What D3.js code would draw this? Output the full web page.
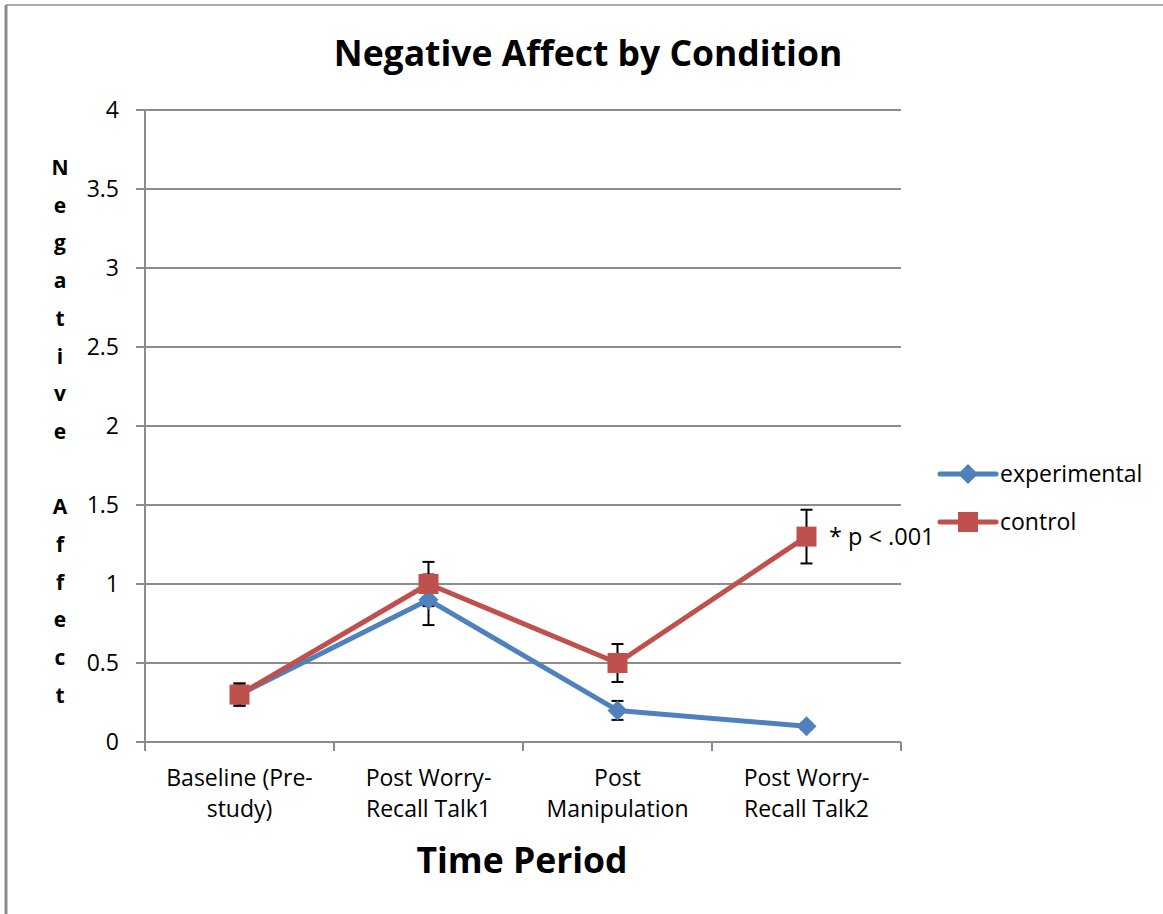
<!DOCTYPE html>
<html>
<head>
<meta charset="utf-8">
<script src="https://cdn.jsdelivr.net/npm/d3@7"></script>
<style>
  body { margin: 0; background: #fff; }
  svg text { font-family: "Open Sans", "Liberation Sans", sans-serif; fill: #000; }
</style>
</head>
<body>
<div id="chart"></div>
<script>
// chart values
var periods = [["Baseline (Pre-", "study)"], ["Post Worry-", "Recall Talk1"], ["Post", "Manipulation"], ["Post Worry-", "Recall Talk2"]];
var experimental = [0.3, 0.9, 0.2, 0.1];
var experimentalErr = [0.07, 0.16, 0.06, 0.02];
var control = [0.3, 1.0, 0.5, 1.3];
var controlErr = [0.07, 0.14, 0.12, 0.17];
var yTicks = [0, 0.5, 1, 1.5, 2, 2.5, 3, 3.5, 4];
var yLabel = "Negative Affect";

var W = 1163, H = 914;
var blue = "#4f81bd", red = "#c0504d", grid = "#8c8c8c";

var svg = d3.select("#chart").append("svg")
  .attr("width", W)
  .attr("height", H);

// outer frame (only left and top show)
svg.append("line").attr("x1", 6).attr("x2", 6).attr("y1", 5).attr("y2", H)
  .attr("stroke", grid).attr("stroke-width", 3);
svg.append("line").attr("x1", 6).attr("x2", W).attr("y1", 5).attr("y2", 5)
  .attr("stroke", grid).attr("stroke-width", 1.5);

var x = d3.scaleBand().domain(d3.range(periods.length)).range([145, 901]);
var y = d3.scaleLinear().domain([0, 4]).range([742, 110]);

// gridlines + y ticks
svg.append("g").selectAll("line").data(yTicks).join("line")
  .attr("x1", 136).attr("x2", 901)
  .attr("y1", function(d) { return y(d); })
  .attr("y2", function(d) { return y(d); })
  .attr("stroke", grid).attr("stroke-width", 2);

svg.append("g").selectAll("text").data(yTicks).join("text")
  .attr("x", 119)
  .attr("y", function(d) { return y(d) + 8; })
  .attr("text-anchor", "end")
  .attr("font-size", 23)
  .text(function(d) { return d; });

// y axis line
svg.append("line").attr("x1", 145).attr("x2", 145).attr("y1", 110).attr("y2", 750)
  .attr("stroke", grid).attr("stroke-width", 2);

// x ticks at band edges
var edges = d3.range(periods.length + 1).map(function(i) { return i < periods.length ? x(i) : x.range()[1]; });
svg.append("g").selectAll("line").data(edges).join("line")
  .attr("x1", function(d) { return d; }).attr("x2", function(d) { return d; })
  .attr("y1", 742).attr("y2", 751)
  .attr("stroke", grid).attr("stroke-width", 2);

// x tick labels
var xl = svg.append("g").selectAll("text").data(periods).join("text")
  .attr("text-anchor", "middle")
  .attr("font-size", 23);
xl.each(function(d, i) {
  var t = d3.select(this);
  d.forEach(function(line, j) {
    t.append("tspan")
      .attr("x", x(i) + x.bandwidth() / 2)
      .attr("y", 786 + j * 31)
      .text(line);
  });
});

function cx(i) { return x(i) + x.bandwidth() / 2; }

var line = d3.line()
  .x(function(d, i) { return cx(i); })
  .y(function(d) { return y(d); });

function errorBars(vals, errs) {
  var g = svg.append("g").attr("stroke", "#000").attr("stroke-width", 2);
  vals.forEach(function(v, i) {
    var top = y(v + errs[i]), bot = y(v - errs[i]);
    g.append("line").attr("x1", cx(i)).attr("x2", cx(i)).attr("y1", top).attr("y2", bot);
    g.append("line").attr("x1", cx(i) - 6).attr("x2", cx(i) + 6).attr("y1", top).attr("y2", top);
    g.append("line").attr("x1", cx(i) - 6).attr("x2", cx(i) + 6).attr("y1", bot).attr("y2", bot);
  });
}

errorBars(experimental, experimentalErr);
errorBars(control, controlErr);

svg.append("path").datum(experimental)
  .attr("d", line).attr("fill", "none")
  .attr("stroke", blue).attr("stroke-width", 5).attr("stroke-linejoin", "round");

svg.append("path").datum(control)
  .attr("d", line).attr("fill", "none")
  .attr("stroke", red).attr("stroke-width", 5).attr("stroke-linejoin", "round");

var diamond = d3.symbol().type(d3.symbolSquare).size(200);

svg.append("g").selectAll("path").data(experimental).join("path")
  .attr("d", diamond)
  .attr("transform", function(d, i) { return "translate(" + cx(i) + "," + y(d) + ") rotate(45)"; })
  .attr("fill", blue);

svg.append("g").selectAll("rect").data(control).join("rect")
  .attr("x", function(d, i) { return cx(i) - 10; })
  .attr("y", function(d) { return y(d) - 10; })
  .attr("width", 20).attr("height", 20)
  .attr("fill", red);

// significance note
svg.append("text")
  .attr("x", 829)
  .attr("y", y(control[3]) + 8)
  .attr("font-size", 23.5)
  .text("* p < .001");

// legend
var legend = [{ name: "experimental", color: blue, shape: "diamond" }, { name: "control", color: red, shape: "square" }];
var lg = svg.append("g").selectAll("g").data(legend).join("g")
  .attr("transform", function(d, i) { return "translate(940," + (474 + i * 48) + ")"; });
lg.append("line").attr("x1", 0).attr("x2", 56).attr("y1", 0).attr("y2", 0)
  .attr("stroke", function(d) { return d.color; }).attr("stroke-width", 5).attr("stroke-linecap", "round");
lg.append("path")
  .attr("d", function(d) { return d.shape === "diamond" ? diamond() : d3.symbol().type(d3.symbolSquare).size(400)(); })
  .attr("transform", function(d) { return "translate(28,0)" + (d.shape === "diamond" ? " rotate(45)" : ""); })
  .attr("fill", function(d) { return d.color; });
lg.append("text")
  .attr("x", 60).attr("y", 8)
  .attr("font-size", 23)
  .text(function(d) { return d.name; });

// titles
svg.append("text")
  .attr("x", 588).attr("y", 66)
  .attr("text-anchor", "middle")
  .attr("font-size", 35.5).attr("font-weight", "bold")
  .text("Negative Affect by Condition");

svg.append("text")
  .attr("x", 522).attr("y", 873)
  .attr("text-anchor", "middle")
  .attr("font-size", 35.5).attr("font-weight", "bold")
  .text("Time Period");

// stacked vertical y-axis label
var letters = yLabel.split("");
svg.append("g").selectAll("text").data(letters).join("text")
  .attr("x", 60)
  .attr("y", function(d, i) { return 175 + i * 37.7; })
  .attr("text-anchor", "middle")
  .attr("font-family", "DejaVu Sans")
  .attr("font-size", 21).attr("font-weight", "bold")
  .text(function(d) { return d; });
</script>
</body>
</html>
